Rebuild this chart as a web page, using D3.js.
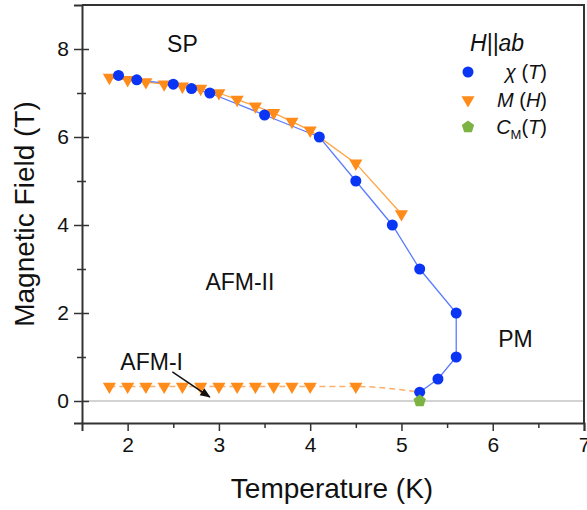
<!DOCTYPE html>
<html>
<head>
<meta charset="utf-8">
<script src="https://cdn.jsdelivr.net/npm/d3@7"></script>
<style>
  body { margin: 0; background: #fff; }
  svg { font-family: Arial, "Liberation Sans", sans-serif; }
</style>
</head>
<body>
<svg id="chart" width="587" height="510"></svg>
<script>
// chi(T) transition points
const chiT = [1.9, 2.1, 2.5, 2.7, 2.9, 3.5, 4.1, 4.5, 4.9, 5.2, 5.6, 5.6, 5.4, 5.2];
const chiH = [7.4, 7.3, 7.2, 7.1, 7.0, 6.5, 6.0, 5.0, 4.0, 3.0, 2.0, 1.0, 0.5, 0.2];

// M(H) upper transition (SP boundary)
const mUpT = [1.8, 2.0, 2.2, 2.4, 2.6, 2.8, 3.0, 3.2, 3.4, 3.6, 3.8, 4.0, 4.5, 5.0];
const mUpH = [7.35, 7.3, 7.25, 7.2, 7.15, 7.1, 7.0, 6.85, 6.7, 6.55, 6.35, 6.15, 5.4, 4.25];

// M(H) lower transition (AFM-I boundary)
const mLowT = [1.8, 2.0, 2.2, 2.4, 2.6, 2.8, 3.0, 3.2, 3.4, 3.6, 3.8, 4.0, 4.5];
const mLowH = [0.33, 0.33, 0.33, 0.33, 0.33, 0.33, 0.33, 0.33, 0.33, 0.33, 0.33, 0.33, 0.33];

// C_M(T) point
const cmT = [5.2];
const cmH = [0.0];

const xTicks = [2, 3, 4, 5, 6, 7];
const yTicks = [0, 2, 4, 6, 8];

const blue = "#0a35f5", blueLine = "#5b7cff";
const orange = "#ff8c1a", orangeLine = "#ffa444";
const green = "#7cb342";

const svg = d3.select("#chart");
const margin = { top: 5, right: 3, bottom: 87, left: 82 };
const width = +svg.attr("width") - margin.left - margin.right;
const height = +svg.attr("height") - margin.top - margin.bottom;

const g = svg.append("g")
    .attr("transform", `translate(${margin.left},${margin.top})`);

const x = d3.scaleLinear().domain([1.5, 7]).range([0, width]);
const y = d3.scaleLinear().domain([-0.5, 9]).range([height, 0]);

// zero line
g.append("line")
    .attr("x1", 0).attr("x2", width)
    .attr("y1", y(0)).attr("y2", y(0))
    .attr("stroke", "#c4c4c4").attr("stroke-width", 1.5);

// axes
const axisColor = "#333";
const xAxis = g.append("g")
    .attr("transform", `translate(0,${height})`)
    .call(d3.axisBottom(x).tickValues(xTicks).tickSize(8).tickPadding(6).tickFormat(d3.format("d")));
g.append("g")
    .attr("transform", `translate(0,${height})`)
    .call(d3.axisBottom(x).tickValues(d3.range(2.5, 7, 1)).tickSize(5).tickFormat(""))
    .select(".domain").remove();

const yAxis = g.append("g")
    .call(d3.axisLeft(y).tickValues(yTicks).tickSize(8).tickPadding(5).tickFormat(d3.format("d")));
g.append("g")
    .call(d3.axisLeft(y).tickValues([1, 3, 5, 7]).tickSize(5).tickFormat(""))
    .select(".domain").remove();
g.append("g")
    .call(d3.axisRight(y).tickValues(yTicks).tickSize(7).tickFormat(""))
    .select(".domain").remove();
g.append("g")
    .call(d3.axisRight(y).tickValues([1, 3, 5, 7]).tickSize(4).tickFormat(""))
    .select(".domain").remove();

g.selectAll(".tick line").attr("stroke", axisColor).attr("stroke-width", 1.5);
g.selectAll(".domain").attr("stroke", axisColor).attr("stroke-width", 2);
g.selectAll(".tick text").attr("font-size", 21).attr("fill", "#111")
    .attr("font-family", "Arial, 'Liberation Sans', sans-serif");

// frame top and right
g.append("path")
    .attr("d", `M0,0H${width}V${height}`)
    .attr("fill", "none").attr("stroke", axisColor).attr("stroke-width", 2);

// axis titles
svg.append("text")
    .attr("x", margin.left + 250)
    .attr("y", 498)
    .attr("text-anchor", "middle")
    .attr("font-size", 28)
    .attr("fill", "#111")
    .text("Temperature (K)");

svg.append("text")
    .attr("transform", "rotate(-90)")
    .attr("x", -(margin.top + height / 2))
    .attr("y", 34)
    .attr("text-anchor", "middle")
    .attr("font-size", 28)
    .attr("fill", "#111")
    .text("Magnetic Field (T)");

// lines
const chi = chiT.map((t, i) => ({ t: t, h: chiH[i] }));
const mUp = mUpT.map((t, i) => ({ t: t, h: mUpH[i] }));
const mLow = mLowT.map((t, i) => ({ t: t, h: mLowH[i] }));
const cm = cmT.map((t, i) => ({ t: t, h: cmH[i] }));

const line = d3.line().x(d => x(d.t)).y(d => y(d.h));

g.append("path")
    .datum(mLow.concat([chi[chi.length - 1]]))
    .attr("d", line.curve(d3.curveMonotoneX))
    .attr("fill", "none")
    .attr("stroke", "#ffae6a")
    .attr("stroke-width", 1.5)
    .attr("stroke-dasharray", "6,4");

line.curve(d3.curveLinear);

g.append("path")
    .datum(mUp)
    .attr("d", line)
    .attr("fill", "none")
    .attr("stroke", orangeLine)
    .attr("stroke-width", 1.3);

g.append("path")
    .datum(chi)
    .attr("d", line)
    .attr("fill", "none")
    .attr("stroke", blueLine)
    .attr("stroke-width", 1.3);

// markers
const tri = d3.symbol().type(d3.symbolTriangle).size(75);
const pentagon = r => d3.range(5).map(i => {
    const a = -Math.PI / 2 + i * 2 * Math.PI / 5;
    return [r * Math.cos(a), r * Math.sin(a)];
});

g.selectAll(".mup")
    .data(mUp.concat(mLow))
    .enter()
    .append("path")
    .attr("class", "mup")
    .attr("d", tri)
    .attr("transform", d => `translate(${x(d.t)},${y(d.h)}) rotate(180)`)
    .attr("fill", orange);

g.selectAll(".chi")
    .data(chi)
    .enter()
    .append("circle")
    .attr("class", "chi")
    .attr("cx", d => x(d.t))
    .attr("cy", d => y(d.h))
    .attr("r", 5.5)
    .attr("fill", blue);

g.selectAll(".cm")
    .data(cm)
    .enter()
    .append("polygon")
    .attr("class", "cm")
    .attr("points", pentagon(6.5).join(" "))
    .attr("transform", d => `translate(${x(d.t)},${y(d.h)})`)
    .attr("fill", green);

// phase labels
const labels = [
    { t: 2.6, h: 7.93, text: "SP", anchor: "middle" },
    { t: 3.23, h: 2.52, text: "AFM-II", anchor: "middle" },
    { t: 1.92, h: 0.7, text: "AFM-I", anchor: "start" },
    { t: 6.06, h: 1.23, text: "PM", anchor: "start" }
];
g.selectAll(".phase")
    .data(labels)
    .enter()
    .append("text")
    .attr("class", "phase")
    .attr("x", d => x(d.t))
    .attr("y", d => y(d.h))
    .attr("text-anchor", d => d.anchor)
    .attr("font-size", 23)
    .attr("fill", "#111")
    .text(d => d.text);

// arrow
svg.append("defs").append("marker")
    .attr("id", "arrow")
    .attr("viewBox", "0 0 10 10")
    .attr("refX", 9).attr("refY", 5)
    .attr("markerWidth", 7).attr("markerHeight", 7)
    .attr("orient", "auto")
    .append("path")
    .attr("d", "M0,1L10,5L0,9Z")
    .attr("fill", "#111");

g.append("line")
    .attr("x1", x(2.49)).attr("y1", y(0.66))
    .attr("x2", x(2.9)).attr("y2", y(0.09))
    .attr("stroke", "#111")
    .attr("stroke-width", 1.5)
    .attr("marker-end", "url(#arrow)");

// legend
const legend = svg.append("g");
legend.append("text")
    .attr("x", 470).attr("y", 51)
    .attr("font-size", 23)
    .attr("font-style", "italic")
    .attr("fill", "#111")
    .text("H||ab");

const legRows = [72, 100, 127];
legend.append("circle").attr("cx", 468).attr("cy", legRows[0]).attr("r", 5.5).attr("fill", blue);
legend.append("path").attr("d", tri).attr("transform", `translate(468,${legRows[1]}) rotate(180)`).attr("fill", orange);
legend.append("polygon").attr("points", pentagon(6.5).join(" ")).attr("transform", `translate(468,${legRows[2]})`).attr("fill", green);

const t1 = legend.append("text").attr("x", 547).attr("y", legRows[0] + 7).attr("text-anchor", "end").attr("font-size", 20).attr("fill", "#111");
t1.append("tspan").attr("font-style", "italic").text("χ");
t1.append("tspan").text(" (");
t1.append("tspan").attr("font-style", "italic").text("T");
t1.append("tspan").text(")");

const t2 = legend.append("text").attr("x", 547).attr("y", legRows[1] + 7).attr("text-anchor", "end").attr("font-size", 20).attr("fill", "#111");
t2.append("tspan").attr("font-style", "italic").text("M");
t2.append("tspan").text(" (");
t2.append("tspan").attr("font-style", "italic").text("H");
t2.append("tspan").text(")");

const t3 = legend.append("text").attr("x", 547).attr("y", legRows[2] + 7).attr("text-anchor", "end").attr("font-size", 20).attr("fill", "#111");
t3.append("tspan").attr("font-style", "italic").text("C");
t3.append("tspan").attr("font-size", 13).attr("dy", 5).text("M");
t3.append("tspan").attr("dy", -5).text("(");
t3.append("tspan").attr("font-style", "italic").text("T");
t3.append("tspan").text(")");
</script>
</body>
</html>
